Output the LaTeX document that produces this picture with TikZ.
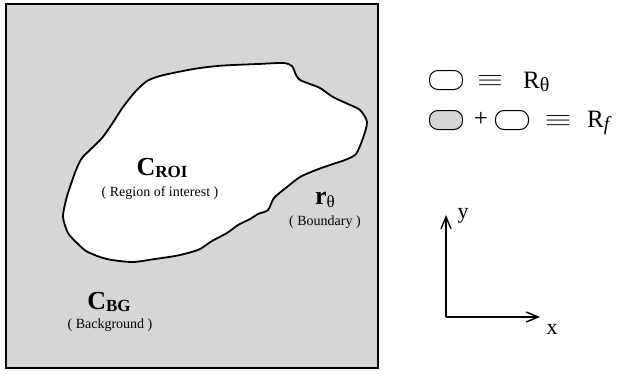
\documentclass[tikz,border=0pt]{standalone}
\usepackage{fontspec}
\usepackage{graphicx}
\setmainfont{Liberation Serif}
\usetikzlibrary{arrows.meta, positioning}

% lowered subscript
\newcommand{\lowsub}[2]{\fontsize{#2}{#2}\selectfont\raisebox{-0.35ex}{#1}}

\begin{document}
\begin{tikzpicture}[x=1pt, y=-1pt,
    bigsym/.style={font=\fontsize{26}{26}\selectfont\bfseries, inner sep=0pt},
    note/.style={font=\fontsize{14}{14}\selectfont, inner sep=0pt},
    legendbox/.style={draw, line width=1pt, rounded corners=8.5pt, minimum width=33pt, minimum height=19pt, inner sep=0pt},
    legendtext/.style={font=\fontsize{25}{25}\selectfont, inner sep=0pt},
    equiv/.style={inner sep=0pt},
    axis/.style={line width=1.4pt, -{Straight Barb[length=12pt, width=10pt, line width=1.4pt]}}]

    \useasboundingbox (0,0) rectangle (619,376);

    % Background region
    \filldraw[fill=gray!32, draw=black, line width=1.3pt] (6,4) rectangle (378,368);

    % Region of interest
    \filldraw[fill=white, draw=black, line width=1.8pt]
    plot[smooth cycle, tension=0.45] coordinates {
        (63,217) (66,200) (70,187) (76,170) (82,158) (92,148) (102,138)
        (112,124) (123,107) (135,92) (147,81) (160,76) (173,73) (188,70)
        (200,68) (217,66) (233,65) (258,64) (283,63) (292,66) (296,75)
        (300,80) (310,84) (320,88) (333,97) (348,104) (360,110) (367,122)
        (363,138) (356,154) (345,160) (333,164) (316,170) (300,177)
        (287,187) (274,198) (268,210) (258,214) (250,219) (238,225)
        (227,233) (212,241) (200,249) (188,253) (175,256) (155,259)
        (133,262) (112,260) (100,257) (86,251) (77,243) (68,233)};

    % Labels
    \node[bigsym] (croi) at (162,168) {C\lowsub{ROI}{17}};
    \node[note] (roi) at (160,193) {( Region of interest )};
    \node[bigsym] (rth) at (325,200) {r\lowsub{\normalfont θ}{17}};
    \node[note] (bnd) at (325,222) {( Boundary )};
    \node[bigsym] (cbg) at (109,302) {C\lowsub{BG}{17}};
    \node[note] (bg) at (110,325) {( Background )};

    % Legend
    \node[legendbox] (lw) at (446,80) {};
    \node[equiv] (eq1) at (490,81) {\resizebox{26pt}{11pt}{$\equiv$}};
    \node[legendtext, anchor=west] (rt) at (523,82) {R\lowsub{θ}{20}};
    \node[legendbox, fill=gray!32] (lg) at (446,120) {};
    \node[legendtext] (plus) at (481,119) {+};
    \node[legendbox] (lw2) at (512,120) {};
    \node[equiv] (eq2) at (558,121) {\resizebox{27pt}{11pt}{$\equiv$}};
    \node[legendtext, anchor=west] (rf) at (587,123) {R\lowsub{\itshape f}{20}};

    % Axes
    \coordinate (o) at (446,317);
    \coordinate (ytip) at (446,215);
    \coordinate (xtip) at (540,317);
    \draw[axis] (o) -- (ytip);
    \draw[axis] (o) -- (xtip);
    \node[legendtext, font=\fontsize{22}{22}\selectfont] (ylab) at (463,216) {y};
    \node[legendtext, font=\fontsize{22}{22}\selectfont] (xlab) at (552,329) {x};

\end{tikzpicture}
\end{document}
